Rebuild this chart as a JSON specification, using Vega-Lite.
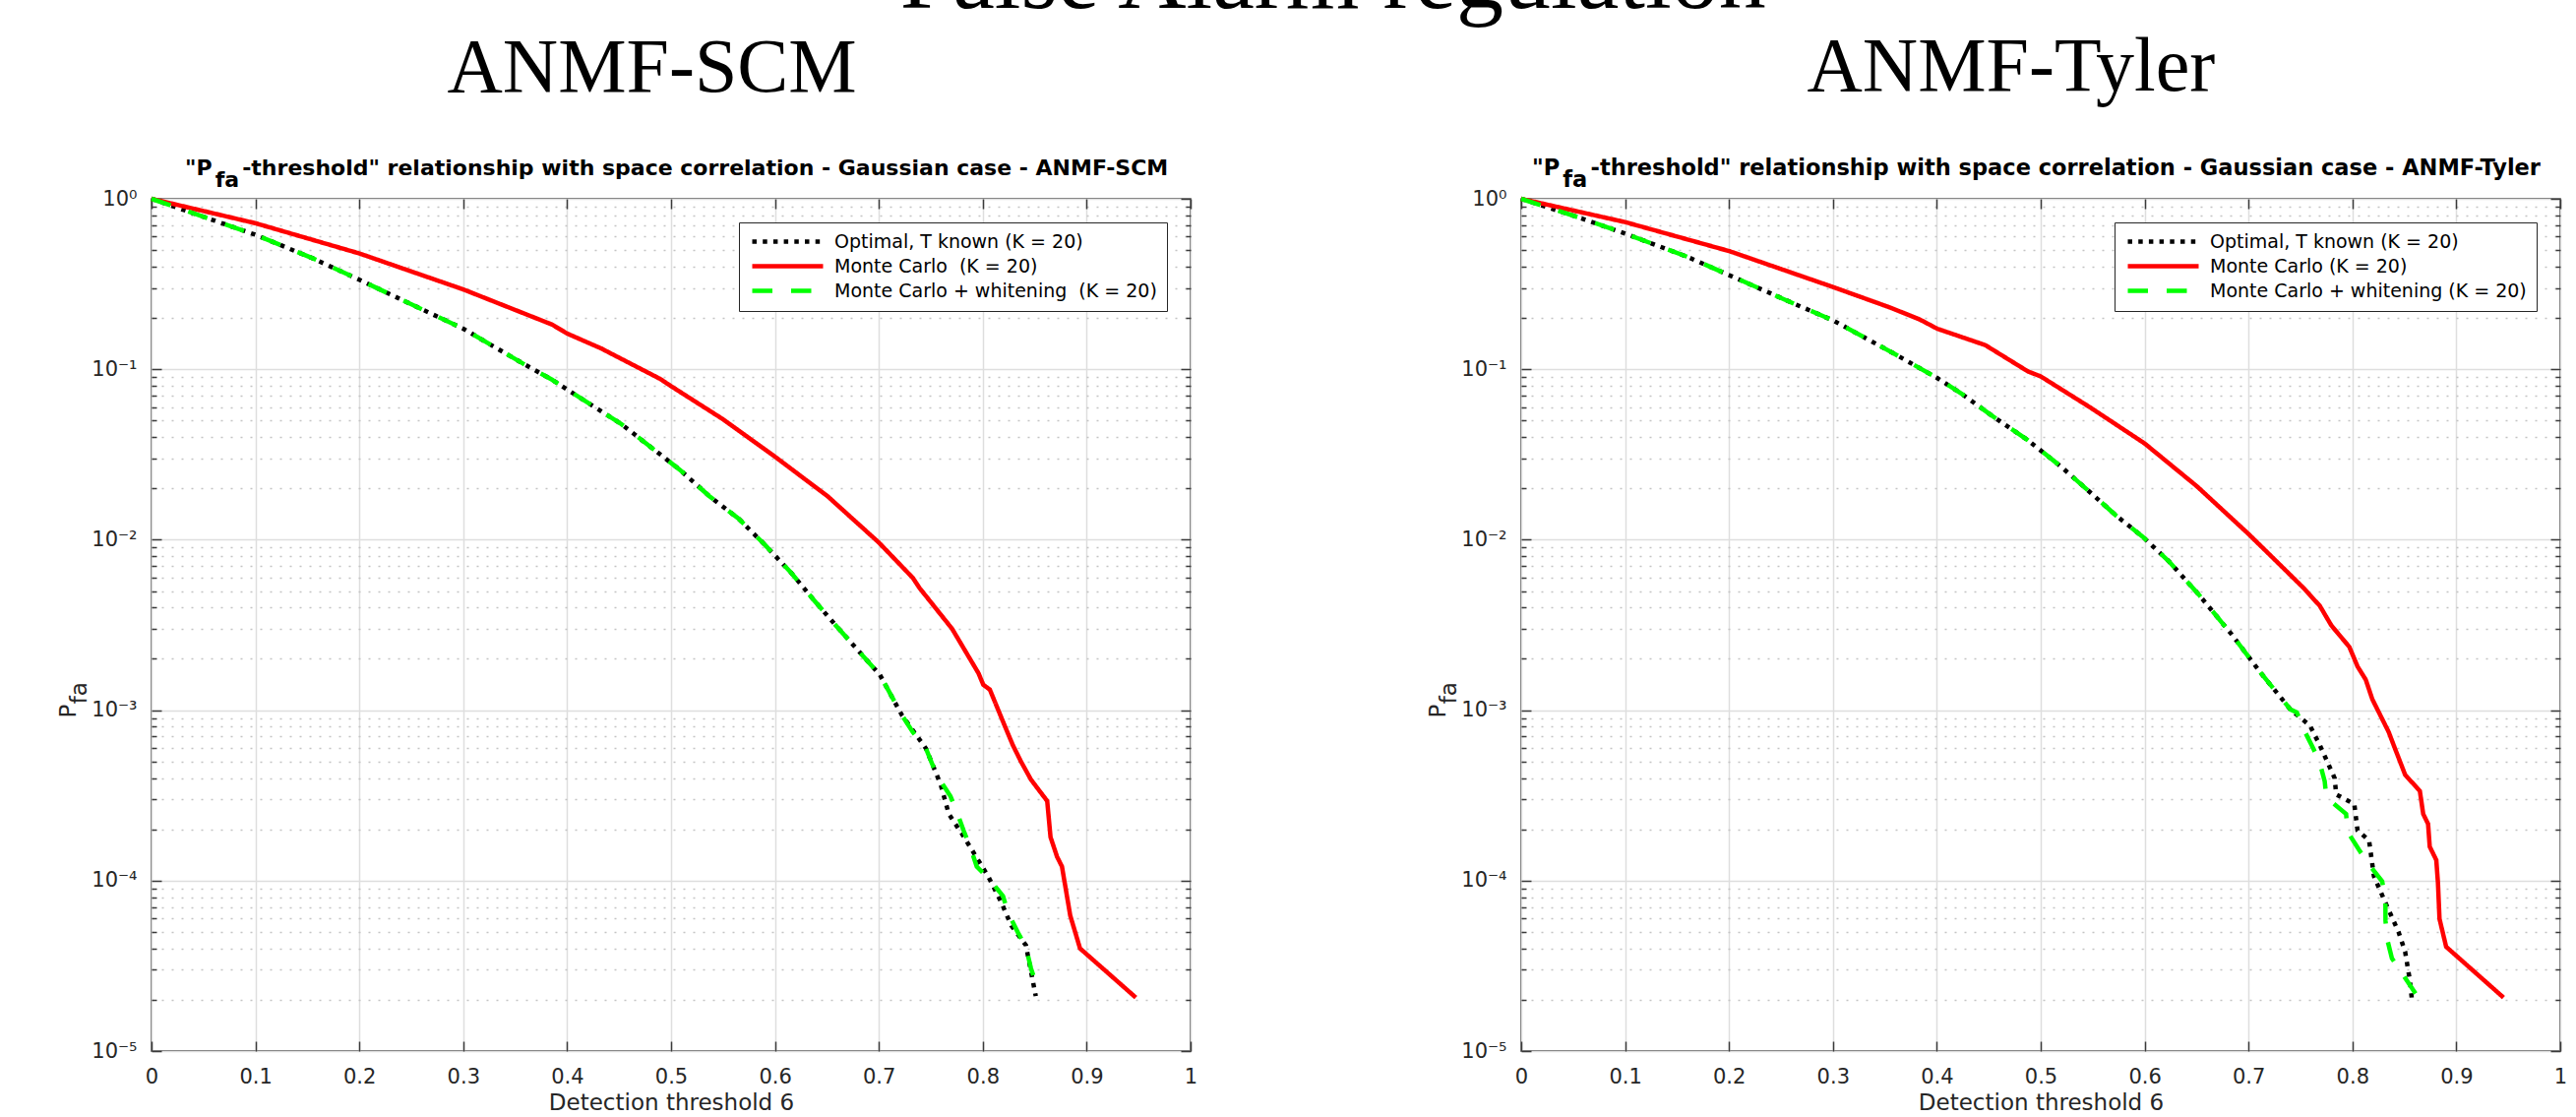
{
  "$schema": "https://vega.github.io/schema/vega-lite/v6.json",
  "background": "white",
  "padding": {"left": 58, "top": -70, "right": 0, "bottom": 0},
  "title": {"text": "False Alarm regulation", "font": "Liberation Serif", "fontSize": 96, "fontWeight": "normal", "color": "black", "anchor": "middle", "offset": 1, "dx": 21},
  "bounds": "flush",
  "spacing": 336,
  "resolve": {"scale": {"color": "independent", "strokeDash": "independent"}, "legend": {"color": "independent", "strokeDash": "independent"}},
  "datasets": {
    "scm": [
      {"s":"opt","x":0,"p":1},{"s":"opt","x":0.054,"p":0.769},{"s":"opt","x":0.1,"p":0.615},{"s":"opt","x":0.155,"p":0.448},{"s":"opt","x":0.2,"p":0.335},{"s":"opt","x":0.2497,"p":0.241},{"s":"opt","x":0.3,"p":0.173},{"s":"opt","x":0.357,"p":0.1084},{"s":"opt","x":0.3854,"p":0.0869},{"s":"opt","x":0.4,"p":0.0761},{"s":"opt","x":0.4517,"p":0.0479},{"s":"opt","x":0.4801,"p":0.0351},{"s":"opt","x":0.5085,"p":0.0257},{"s":"opt","x":0.5369,"p":0.018},{"s":"opt","x":0.5653,"p":0.01324},{"s":"opt","x":0.5906,"p":0.00929},{"s":"opt","x":0.6158,"p":0.00637},{"s":"opt","x":0.638,"p":0.00438},{"s":"opt","x":0.66,"p":0.00307},{"s":"opt","x":0.6853,"p":0.00206},{"s":"opt","x":0.701,"p":0.00161},{"s":"opt","x":0.7224,"p":0.00093},{"s":"opt","x":0.7453,"p":0.000596},{"s":"opt","x":0.7595,"p":0.000366},{"s":"opt","x":0.7673,"p":0.000246},{"s":"opt","x":0.78,"p":0.000188},{"s":"opt","x":0.8052,"p":0.000106},{"s":"opt","x":0.8179,"p":0.0000743},{"s":"opt","x":0.8274,"p":0.0000545},{"s":"opt","x":0.8415,"p":0.0000418},{"s":"opt","x":0.851,"p":0.000021},
      {"s":"mc","x":0,"p":1},{"s":"mc","x":0.1,"p":0.719},{"s":"mc","x":0.2,"p":0.478},{"s":"mc","x":0.3,"p":0.294},{"s":"mc","x":0.3854,"p":0.183},{"s":"mc","x":0.4,"p":0.162},{"s":"mc","x":0.4328,"p":0.1324},{"s":"mc","x":0.4896,"p":0.0877},{"s":"mc","x":0.5,"p":0.0796},{"s":"mc","x":0.5495,"p":0.0511},{"s":"mc","x":0.6,"p":0.0307},{"s":"mc","x":0.6506,"p":0.018},{"s":"mc","x":0.7,"p":0.00962},{"s":"mc","x":0.7327,"p":0.00597},{"s":"mc","x":0.739,"p":0.00522},{"s":"mc","x":0.7705,"p":0.003},{"s":"mc","x":0.7958,"p":0.00165},{"s":"mc","x":0.8005,"p":0.00141},{"s":"mc","x":0.8068,"p":0.00132},{"s":"mc","x":0.821,"p":0.000813},{"s":"mc","x":0.8289,"p":0.000624},{"s":"mc","x":0.8368,"p":0.000499},{"s":"mc","x":0.8463,"p":0.000392},{"s":"mc","x":0.862,"p":0.000293},{"s":"mc","x":0.8652,"p":0.00018},{"s":"mc","x":0.8715,"p":0.000138},{"s":"mc","x":0.8762,"p":0.000121},{"s":"mc","x":0.8842,"p":0.0000623},{"s":"mc","x":0.8936,"p":0.00004},{"s":"mc","x":0.9473,"p":0.0000206},
      {"s":"mcw","x":0,"p":1},{"s":"mcw","x":0.054,"p":0.769},{"s":"mcw","x":0.1,"p":0.615},{"s":"mcw","x":0.155,"p":0.448},{"s":"mcw","x":0.2,"p":0.335},{"s":"mcw","x":0.2497,"p":0.241},{"s":"mcw","x":0.3,"p":0.173},{"s":"mcw","x":0.357,"p":0.1084},{"s":"mcw","x":0.3854,"p":0.0869},{"s":"mcw","x":0.4,"p":0.0761},{"s":"mcw","x":0.4517,"p":0.0479},{"s":"mcw","x":0.4801,"p":0.0351},{"s":"mcw","x":0.5085,"p":0.0257},{"s":"mcw","x":0.5369,"p":0.018},{"s":"mcw","x":0.5653,"p":0.01324},{"s":"mcw","x":0.5906,"p":0.00929},{"s":"mcw","x":0.6158,"p":0.00637},{"s":"mcw","x":0.638,"p":0.00438},{"s":"mcw","x":0.66,"p":0.00307},{"s":"mcw","x":0.6853,"p":0.00206},{"s":"mcw","x":0.701,"p":0.00161},{"s":"mcw","x":0.7224,"p":0.00093},{"s":"mcw","x":0.7327,"p":0.000743},{"s":"mcw","x":0.7453,"p":0.000596},{"s":"mcw","x":0.7516,"p":0.000478},{"s":"mcw","x":0.7595,"p":0.000383},{"s":"mcw","x":0.7689,"p":0.000313},{"s":"mcw","x":0.7752,"p":0.000251},{"s":"mcw","x":0.7815,"p":0.000197},{"s":"mcw","x":0.7878,"p":0.000158},{"s":"mcw","x":0.7942,"p":0.000121},{"s":"mcw","x":0.8068,"p":0.000101},{"s":"mcw","x":0.8195,"p":0.000081},{"s":"mcw","x":0.8242,"p":0.000065},{"s":"mcw","x":0.8336,"p":0.0000499},{"s":"mcw","x":0.8415,"p":0.0000409},{"s":"mcw","x":0.8463,"p":0.0000307},{"s":"mcw","x":0.852,"p":0.000024}
    ],
    "tyler": [
      {"s":"opt","x":0,"p":1},{"s":"opt","x":0.0552,"p":0.778},{"s":"opt","x":0.1004,"p":0.624},{"s":"opt","x":0.1594,"p":0.458},{"s":"opt","x":0.2004,"p":0.356},{"s":"opt","x":0.2636,"p":0.241},{"s":"opt","x":0.3005,"p":0.193},{"s":"opt","x":0.3583,"p":0.124},{"s":"opt","x":0.4003,"p":0.0889},{"s":"opt","x":0.4246,"p":0.0713},{"s":"opt","x":0.453,"p":0.0534},{"s":"opt","x":0.4877,"p":0.0383},{"s":"opt","x":0.5193,"p":0.0269},{"s":"opt","x":0.5445,"p":0.0197},{"s":"opt","x":0.5729,"p":0.0138},{"s":"opt","x":0.5982,"p":0.0104},{"s":"opt","x":0.6235,"p":0.00745},{"s":"opt","x":0.6519,"p":0.00478},{"s":"opt","x":0.6834,"p":0.0028},{"s":"opt","x":0.7119,"p":0.00165},{"s":"opt","x":0.7403,"p":0.00101},{"s":"opt","x":0.759,"p":0.000813},{"s":"opt","x":0.7686,"p":0.000623},{"s":"opt","x":0.7828,"p":0.0004},{"s":"opt","x":0.7844,"p":0.00032},{"s":"opt","x":0.8018,"p":0.000281},{"s":"opt","x":0.8049,"p":0.000197},{"s":"opt","x":0.816,"p":0.000172},{"s":"opt","x":0.8207,"p":0.000106},{"s":"opt","x":0.8317,"p":0.0000743},{"s":"opt","x":0.8444,"p":0.0000499},{"s":"opt","x":0.8507,"p":0.0000383},{"s":"opt","x":0.8554,"p":0.0000257},{"s":"opt","x":0.857,"p":0.0000206},
      {"s":"mc","x":0,"p":1},{"s":"mc","x":0.1004,"p":0.729},{"s":"mc","x":0.2004,"p":0.493},{"s":"mc","x":0.3005,"p":0.303},{"s":"mc","x":0.3552,"p":0.23},{"s":"mc","x":0.3835,"p":0.196},{"s":"mc","x":0.4003,"p":0.173},{"s":"mc","x":0.4467,"p":0.1385},{"s":"mc","x":0.4877,"p":0.0971},{"s":"mc","x":0.5,"p":0.0908},{"s":"mc","x":0.5476,"p":0.0597},{"s":"mc","x":0.6,"p":0.0367},{"s":"mc","x":0.6502,"p":0.0206},{"s":"mc","x":0.7,"p":0.0108},{"s":"mc","x":0.7303,"p":0.00712},{"s":"mc","x":0.7528,"p":0.00522},{"s":"mc","x":0.7686,"p":0.00409},{"s":"mc","x":0.7797,"p":0.00314},{"s":"mc","x":0.797,"p":0.00235},{"s":"mc","x":0.805,"p":0.0018},{"s":"mc","x":0.8128,"p":0.00151},{"s":"mc","x":0.8191,"p":0.00116},{"s":"mc","x":0.8349,"p":0.000744},{"s":"mc","x":0.8397,"p":0.000623},{"s":"mc","x":0.8507,"p":0.000418},{"s":"mc","x":0.8649,"p":0.000335},{"s":"mc","x":0.8681,"p":0.000246},{"s":"mc","x":0.8728,"p":0.000215},{"s":"mc","x":0.8744,"p":0.000158},{"s":"mc","x":0.8807,"p":0.000132},{"s":"mc","x":0.8823,"p":0.000097},{"s":"mc","x":0.8838,"p":0.0000596},{"s":"mc","x":0.8902,"p":0.0000409},{"s":"mc","x":0.9454,"p":0.0000206},
      {"s":"mcw","x":0,"p":1},{"s":"mcw","x":0.0552,"p":0.778},{"s":"mcw","x":0.1004,"p":0.624},{"s":"mcw","x":0.1594,"p":0.458},{"s":"mcw","x":0.2004,"p":0.356},{"s":"mcw","x":0.2636,"p":0.241},{"s":"mcw","x":0.3005,"p":0.193},{"s":"mcw","x":0.3583,"p":0.124},{"s":"mcw","x":0.4003,"p":0.0889},{"s":"mcw","x":0.4246,"p":0.0713},{"s":"mcw","x":0.453,"p":0.0534},{"s":"mcw","x":0.4877,"p":0.0383},{"s":"mcw","x":0.5193,"p":0.0269},{"s":"mcw","x":0.5445,"p":0.0197},{"s":"mcw","x":0.5729,"p":0.0138},{"s":"mcw","x":0.5982,"p":0.0104},{"s":"mcw","x":0.6235,"p":0.00745},{"s":"mcw","x":0.6519,"p":0.00478},{"s":"mcw","x":0.6834,"p":0.0028},{"s":"mcw","x":0.7119,"p":0.00165},{"s":"mcw","x":0.7403,"p":0.00101},{"s":"mcw","x":0.7465,"p":0.00097},{"s":"mcw","x":0.7528,"p":0.000778},{"s":"mcw","x":0.7623,"p":0.000596},{"s":"mcw","x":0.7686,"p":0.000489},{"s":"mcw","x":0.7733,"p":0.000383},{"s":"mcw","x":0.7749,"p":0.000307},{"s":"mcw","x":0.7939,"p":0.000246},{"s":"mcw","x":0.7954,"p":0.000193},{"s":"mcw","x":0.8065,"p":0.000151},{"s":"mcw","x":0.816,"p":0.000124},{"s":"mcw","x":0.8286,"p":0.000099},{"s":"mcw","x":0.8317,"p":0.0000777},{"s":"mcw","x":0.8318,"p":0.0000583},{"s":"mcw","x":0.8333,"p":0.0000457},{"s":"mcw","x":0.838,"p":0.000035},{"s":"mcw","x":0.8475,"p":0.0000287},{"s":"mcw","x":0.8633,"p":0.0000206}
    ]
  },
  "hconcat": [
    {
      "width": 1056, "height": 866,
      "data": {"name": "scm"},
      "title": {"text": "\u200b\u00a0\u00a0\u00a0\u00a0\u00a0\u00a0\u00a0\u00a0\u00a0\u00a0\u00a0\u00a0\u00a0\u200a\u200aANMF-SCM", "font": "Liberation Serif", "fontSize": 78, "fontWeight": "normal", "color": "black", "anchor": "start", "frame": "group", "dx": 34, "offset": -3,
                "subtitle": ["\"P\u00a0\u00a0\u00a0\u00a0-threshold\" relationship with space correlation - Gaussian case - ANMF-SCM", "\u200b\u00a0\u00a0\u00a0\u00a0fa"],
                "subtitleFont": "DejaVu Sans", "subtitleFontSize": 22, "subtitleFontWeight": "bold", "subtitleColor": "black", "subtitlePadding": 52, "subtitleLineHeight": 12},
      "layer": [
        {"mark": {"type": "line", "opacity": 0},
         "encoding": {
           "x": {"field": "x", "type": "quantitative", "scale": {"domain": [0, 1]}, "axis": null},
           "y": {"field": "p", "type": "quantitative", "scale": {"type": "log", "domain": [0.00001, 1]},
                 "axis": {"orient": "left", "values": [0.00002,0.00003,0.00004,0.00005,0.00006,0.00007,0.00008,0.00009,0.0002,0.0003,0.0004,0.0005,0.0006,0.0007,0.0008,0.0009,0.002,0.003,0.004,0.005,0.006,0.007,0.008,0.009,0.02,0.03,0.04,0.05,0.06,0.07,0.08,0.09,0.2,0.3,0.4,0.5,0.6,0.7,0.8,0.9], "grid": true, "gridDash": [2, 8], "gridColor": "#c4c4c4", "gridWidth": 1.5, "labels": false, "tickSize": -5, "tickWidth": 1.5, "title": null}}
         }},
        {"mark": {"type": "line", "opacity": 0},
         "encoding": {
           "x": {"field": "x", "type": "quantitative", "scale": {"domain": [0, 1]},
                 "axis": {"orient": "top", "values": [0,0.1,0.2,0.3,0.4,0.5,0.6,0.7,0.8,0.9,1], "grid": false, "labels": false, "tickSize": -10, "tickWidth": 1.5, "title": null}},
           "y": {"field": "p", "type": "quantitative", "scale": {"type": "log", "domain": [0.00001, 1]},
                 "axis": {"orient": "right", "values": [0.00001,0.0001,0.001,0.01,0.1,1], "grid": false, "labels": false, "tickSize": -10, "tickWidth": 1.5, "title": null}}
         }},
        {"mark": {"type": "line", "opacity": 0},
         "encoding": {
           "x": {"field": "x", "type": "quantitative", "scale": {"domain": [0, 1]}, "axis": null},
           "y": {"field": "p", "type": "quantitative", "scale": {"type": "log", "domain": [0.00001, 1]},
                 "axis": {"orient": "right", "values": [0.00002,0.00003,0.00004,0.00005,0.00006,0.00007,0.00008,0.00009,0.0002,0.0003,0.0004,0.0005,0.0006,0.0007,0.0008,0.0009,0.002,0.003,0.004,0.005,0.006,0.007,0.008,0.009,0.02,0.03,0.04,0.05,0.06,0.07,0.08,0.09,0.2,0.3,0.4,0.5,0.6,0.7,0.8,0.9], "grid": false, "labels": false, "tickSize": -5, "tickWidth": 1.5, "title": null}}
         }},
        {"mark": {"type": "line", "strokeWidth": 4.5, "strokeCap": "butt"},
         "encoding": {
           "x": {"field": "x", "type": "quantitative", "scale": {"domain": [0, 1]},
                 "axis": {"orient": "bottom", "values": [0,0.1,0.2,0.3,0.4,0.5,0.6,0.7,0.8,0.9,1], "format": "~g", "grid": true, "gridColor": "#dedede", "gridWidth": 1.5, "tickSize": -10, "tickWidth": 1.5, "labelFontSize": 21, "labelPadding": 25, "labelFlush": false, "labelOverlap": false, "title": "Detection threshold 6", "titleFontSize": 23, "titlePadding": 5}},
           "y": {"field": "p", "type": "quantitative", "scale": {"type": "log", "domain": [0.00001, 1]},
                 "axis": {"orient": "left", "values": [0.00001,0.0001,0.001,0.01,0.1,1], "labelExpr": "['10⁻⁵','10⁻⁴','10⁻³','10⁻²','10⁻¹','10⁰'][round(log(datum.value)/LN10)+5]", "grid": true, "gridColor": "#dedede", "gridWidth": 1.5, "tickSize": -10, "tickWidth": 1.5, "labelFontSize": 21, "labelPadding": 25, "labelFlush": false, "labelOverlap": false, "title": ["P", "\u200b\u00a0\u00a0\u00a0\u00a0\u00a0fa"], "titleFontSize": 23, "titlePadding": 0, "titleLineHeight": 11, "titleY": 520}},
           "color": {"field": "s", "type": "nominal",
                     "scale": {"domain": ["opt", "mc", "mcw"], "range": ["#000000", "#ff0000", "#00ff00"]},
                     "legend": {"orient": "top-right", "offset": 24, "title": null, "padding": 10, "strokeColor": "#262626", "fillColor": "white", "symbolType": "M-1,0H11", "symbolSize": 144, "symbolStrokeWidth": 4.5, "labelFont": "DejaVu Sans", "labelFontSize": 19, "labelColor": "black", "labelOffset": 68, "rowPadding": 5, "labelLimit": 0,
                                "labelExpr": "datum.value == 'opt' ? 'Optimal, T known (K = 20)' : datum.value == 'mc' ? 'Monte Carlo\u00a0 (K = 20)' : 'Monte Carlo + whitening\u00a0 (K = 20)'"}},
           "strokeDash": {"field": "s", "type": "nominal",
                     "scale": {"domain": ["opt", "mc", "mcw"], "range": [[4.5, 6.2], [1, 0], [20.5, 19]]},
                     "legend": {"orient": "top-right", "offset": 24, "title": null, "padding": 10, "strokeColor": "#262626", "fillColor": "white", "symbolType": "M-1,0H11", "symbolSize": 144, "symbolStrokeWidth": 4.5, "labelFont": "DejaVu Sans", "labelFontSize": 19, "labelColor": "black", "labelOffset": 68, "rowPadding": 5, "labelLimit": 0,
                                "labelExpr": "datum.value == 'opt' ? 'Optimal, T known (K = 20)' : datum.value == 'mc' ? 'Monte Carlo\u00a0 (K = 20)' : 'Monte Carlo + whitening\u00a0 (K = 20)'"}}
         }}
      ],
      "resolve": {"axis": {"x": "independent", "y": "independent"}}
    },
    {
      "width": 1056, "height": 866,
      "data": {"name": "tyler"},
      "title": {"text": "\u200b\u00a0\u00a0\u00a0\u00a0\u00a0\u00a0\u00a0\u00a0\u00a0\u00a0\u00a0\u00a0\u00a0\u00a0\u200aANMF-Tyler", "font": "Liberation Serif", "fontSize": 78, "fontWeight": "normal", "color": "black", "anchor": "start", "frame": "group", "dx": 11, "offset": -3,
                "subtitle": ["\"P\u00a0\u00a0\u00a0\u00a0-threshold\" relationship with space correlation - Gaussian case - ANMF-Tyler", "\u200b\u00a0\u00a0\u00a0\u00a0fa"],
                "subtitleFont": "DejaVu Sans", "subtitleFontSize": 22.5, "subtitleFontWeight": "bold", "subtitleColor": "black", "subtitlePadding": 52, "subtitleLineHeight": 12},
      "layer": [
        {"mark": {"type": "line", "opacity": 0},
         "encoding": {
           "x": {"field": "x", "type": "quantitative", "scale": {"domain": [0, 1]}, "axis": null},
           "y": {"field": "p", "type": "quantitative", "scale": {"type": "log", "domain": [0.00001, 1]},
                 "axis": {"orient": "left", "values": [0.00002,0.00003,0.00004,0.00005,0.00006,0.00007,0.00008,0.00009,0.0002,0.0003,0.0004,0.0005,0.0006,0.0007,0.0008,0.0009,0.002,0.003,0.004,0.005,0.006,0.007,0.008,0.009,0.02,0.03,0.04,0.05,0.06,0.07,0.08,0.09,0.2,0.3,0.4,0.5,0.6,0.7,0.8,0.9], "grid": true, "gridDash": [2, 8], "gridColor": "#c4c4c4", "gridWidth": 1.5, "labels": false, "tickSize": -5, "tickWidth": 1.5, "title": null}}
         }},
        {"mark": {"type": "line", "opacity": 0},
         "encoding": {
           "x": {"field": "x", "type": "quantitative", "scale": {"domain": [0, 1]},
                 "axis": {"orient": "top", "values": [0,0.1,0.2,0.3,0.4,0.5,0.6,0.7,0.8,0.9,1], "grid": false, "labels": false, "tickSize": -10, "tickWidth": 1.5, "title": null}},
           "y": {"field": "p", "type": "quantitative", "scale": {"type": "log", "domain": [0.00001, 1]},
                 "axis": {"orient": "right", "values": [0.00001,0.0001,0.001,0.01,0.1,1], "grid": false, "labels": false, "tickSize": -10, "tickWidth": 1.5, "title": null}}
         }},
        {"mark": {"type": "line", "opacity": 0},
         "encoding": {
           "x": {"field": "x", "type": "quantitative", "scale": {"domain": [0, 1]}, "axis": null},
           "y": {"field": "p", "type": "quantitative", "scale": {"type": "log", "domain": [0.00001, 1]},
                 "axis": {"orient": "right", "values": [0.00002,0.00003,0.00004,0.00005,0.00006,0.00007,0.00008,0.00009,0.0002,0.0003,0.0004,0.0005,0.0006,0.0007,0.0008,0.0009,0.002,0.003,0.004,0.005,0.006,0.007,0.008,0.009,0.02,0.03,0.04,0.05,0.06,0.07,0.08,0.09,0.2,0.3,0.4,0.5,0.6,0.7,0.8,0.9], "grid": false, "labels": false, "tickSize": -5, "tickWidth": 1.5, "title": null}}
         }},
        {"mark": {"type": "line", "strokeWidth": 4.5, "strokeCap": "butt"},
         "encoding": {
           "x": {"field": "x", "type": "quantitative", "scale": {"domain": [0, 1]},
                 "axis": {"orient": "bottom", "values": [0,0.1,0.2,0.3,0.4,0.5,0.6,0.7,0.8,0.9,1], "format": "~g", "grid": true, "gridColor": "#dedede", "gridWidth": 1.5, "tickSize": -10, "tickWidth": 1.5, "labelFontSize": 21, "labelPadding": 25, "labelFlush": false, "labelOverlap": false, "title": "Detection threshold 6", "titleFontSize": 23, "titlePadding": 5}},
           "y": {"field": "p", "type": "quantitative", "scale": {"type": "log", "domain": [0.00001, 1]},
                 "axis": {"orient": "left", "values": [0.00001,0.0001,0.001,0.01,0.1,1], "labelExpr": "['10⁻⁵','10⁻⁴','10⁻³','10⁻²','10⁻¹','10⁰'][round(log(datum.value)/LN10)+5]", "grid": true, "gridColor": "#dedede", "gridWidth": 1.5, "tickSize": -10, "tickWidth": 1.5, "labelFontSize": 21, "labelPadding": 25, "labelFlush": false, "labelOverlap": false, "title": ["P", "\u200b\u00a0\u00a0\u00a0\u00a0\u00a0fa"], "titleFontSize": 23, "titlePadding": 0, "titleLineHeight": 11, "titleY": 520}},
           "color": {"field": "s", "type": "nominal",
                     "scale": {"domain": ["opt", "mc", "mcw"], "range": ["#000000", "#ff0000", "#00ff00"]},
                     "legend": {"orient": "top-right", "offset": 24, "title": null, "padding": 10, "strokeColor": "#262626", "fillColor": "white", "symbolType": "M-1,0H11", "symbolSize": 144, "symbolStrokeWidth": 4.5, "labelFont": "DejaVu Sans", "labelFontSize": 19, "labelColor": "black", "labelOffset": 68, "rowPadding": 5, "labelLimit": 0,
                                "labelExpr": "datum.value == 'opt' ? 'Optimal, T known (K = 20)' : datum.value == 'mc' ? 'Monte Carlo (K = 20)' : 'Monte Carlo + whitening (K = 20)'"}},
           "strokeDash": {"field": "s", "type": "nominal",
                     "scale": {"domain": ["opt", "mc", "mcw"], "range": [[4.5, 6.2], [1, 0], [20.5, 19]]},
                     "legend": {"orient": "top-right", "offset": 24, "title": null, "padding": 10, "strokeColor": "#262626", "fillColor": "white", "symbolType": "M-1,0H11", "symbolSize": 144, "symbolStrokeWidth": 4.5, "labelFont": "DejaVu Sans", "labelFontSize": 19, "labelColor": "black", "labelOffset": 68, "rowPadding": 5, "labelLimit": 0,
                                "labelExpr": "datum.value == 'opt' ? 'Optimal, T known (K = 20)' : datum.value == 'mc' ? 'Monte Carlo (K = 20)' : 'Monte Carlo + whitening (K = 20)'"}}
         }}
      ],
      "resolve": {"axis": {"x": "independent", "y": "independent"}}
    }
  ],
  "config": {
    "view": {"stroke": "#3a3a3a", "strokeWidth": 1.5},
    "font": "DejaVu Sans",
    "axis": {"labelFont": "DejaVu Sans", "titleFont": "DejaVu Sans", "labelColor": "#262626", "titleColor": "#262626", "tickColor": "#3a3a3a", "domain": false, "titleFontWeight": "normal"}
  }
}
